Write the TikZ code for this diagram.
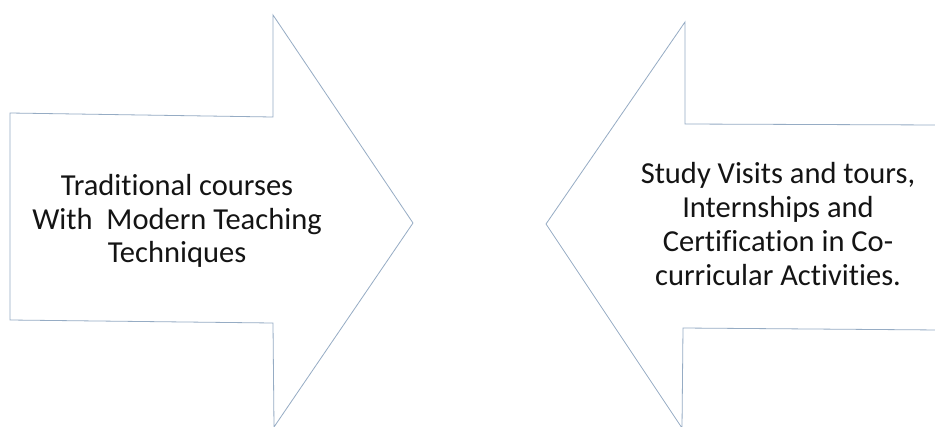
\documentclass[tikz,border=0pt]{standalone}
\usepackage{fontspec}
\setmainfont{Carlito}[Ligatures={NoCommon}]
\definecolor{outline}{RGB}{150,172,196}
\definecolor{inktext}{RGB}{20,20,20}
\tikzset{
  arrowshape/.style={draw=outline, line width=0.8pt, fill=white, line join=miter},
  label/.style={align=center, font=\fontsize{30.5}{33.5}\selectfont, text=inktext, inner sep=0pt},
  widelabel/.style={label, font=\fontsize{30.5}{34}\selectfont}
}
\begin{document}
\begin{tikzpicture}[x=1pt,y=-1pt]
\useasboundingbox (0,0) rectangle (935,426);
\fill[white] (0,0) rectangle (935,426);
% left arrow pointing right
\draw[arrowshape] (10,113) -- (273,117) -- (273,15) -- (413,223) -- (274,427) -- (273,323) -- (10,320) -- cycle;
% right arrow pointing left
\draw[arrowshape] (940,125) -- (685,124) -- (685,22) -- (546,224) -- (682,428) -- (683,328) -- (940,330);
\node[label] (lefttext) at (177,221) {Traditional courses\\With\ \ Modern Teaching\\Techniques};
\node[widelabel] (righttext) at (778,224) {Study Visits and tours,\\Internships and\\Certification in Co-\\curricular Activities.};
\end{tikzpicture}
\end{document}
